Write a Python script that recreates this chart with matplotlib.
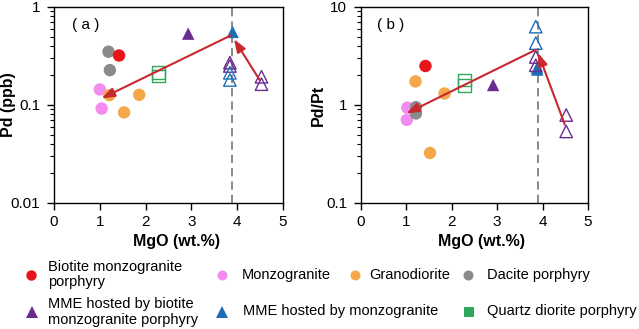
import matplotlib
matplotlib.use("Agg")
import matplotlib.pyplot as plt
from matplotlib.lines import Line2D
from matplotlib.ticker import LogLocator, NullFormatter, FixedLocator, FixedFormatter

plt.rcParams['font.family'] = ['Liberation Sans', 'DejaVu Sans']

# ---- data (panel a: Pd ppb, panel b: Pd/Pt) ----
red_x = [1.42]; red_a = [0.32]; red_bx = [1.42]; red_b = [2.5]
gray_x = [1.19, 1.22]; gray_a = [0.35, 0.227]
gray_bx = [1.21, 1.21]; gray_b = [0.95, 0.82]
pink_x = [1.0, 1.04]; pink_a = [0.144, 0.092]
pink_bx = [1.02, 1.01]; pink_b = [0.94, 0.705]
orange_x = [1.21, 1.86, 1.53]; orange_a = [0.126, 0.127, 0.084]
orange_bx = [1.2, 1.84, 1.52]; orange_b = [1.74, 1.31, 0.324]
green_x = [2.28, 2.28]; green_a = [0.215, 0.198]
green_bx = [2.28, 2.28]; green_b = [1.79, 1.58]
purple_fx = [2.93]; purple_fa = [0.535]
purple_fbx = [2.91]; purple_fb = [1.6]
blue_fx = [3.9]; blue_fa = [0.557]
blue_fbx = [3.88, 3.88]; blue_fb = [2.4, 2.3]
purple_ox = [3.84, 3.84, 4.53, 4.53]; purple_oa = [0.27, 0.25, 0.194, 0.163]
purple_obx = [3.85, 3.85, 4.52, 4.52]; purple_ob = [3.09, 2.54, 0.79, 0.537]
blue_ox = [3.84, 3.84]; blue_oa = [0.213, 0.18]
blue_obx = [3.85, 3.85]; blue_ob = [6.3, 4.28]
dash_x = 3.89
arrows_a = [((3.87, 0.515), (1.04, 0.117)), ((4.49, 0.18), (3.93, 0.47))]
arrows_b = [((3.85, 3.66), (1.0, 0.82)), ((4.49, 0.63), (3.9, 3.4))]

C_RED = '#e8161b'; C_PINK = '#f38cf0'; C_OR = '#f4a84a'; C_GRAY = '#8a8a8a'
C_PUR = '#6a2c91'; C_BLUE = '#1c6fb6'; C_GREEN = '#2ea85a'; C_ARR = '#c8282e'

fig = plt.figure(figsize=(6.39, 3.29), dpi=100)
axa = fig.add_axes([54/639, 1-203/329, 229/639, 196/329])
axb = fig.add_axes([361/639, 1-203/329, 227/639, 196/329])

S = 80
def draw(ax, d, arrows, ylim, ylabel, plabel, ylab_x, plab_x):
    (rx, ry), (gx, gy), (px, py), (ox, oy), (qx, qy), (pfx, pfy), (bfx, bfy), (pox, poy), (box, boy) = d
    ax.axvline(dash_x, color='#777777', ls=(0, (5, 3)), lw=1.2, zorder=1)
    ax.scatter(px, py, s=S, c=C_PINK, edgecolors='none', zorder=3)
    ax.scatter(ox, oy, s=S, c=C_OR, edgecolors='none', zorder=3)
    ax.scatter(gx, gy, s=S, c=C_GRAY, edgecolors='none', zorder=3)
    ax.scatter(rx, ry, s=S, c=C_RED, edgecolors='none', zorder=3)
    ax.scatter(qx, qy, s=S, marker='s', facecolors='none', edgecolors=C_GREEN, linewidths=1.0, zorder=3)
    ax.scatter(pfx, pfy, s=S, marker='^', c=C_PUR, edgecolors='none', zorder=3)
    ax.scatter(bfx, bfy, s=S, marker='^', c=C_BLUE, edgecolors='none', zorder=3)
    ax.scatter(pox, poy, s=S, marker='^', facecolors='none', edgecolors=C_PUR, linewidths=1.0, zorder=3)
    ax.scatter(box, boy, s=S, marker='^', facecolors='none', edgecolors=C_BLUE, linewidths=1.0, zorder=3)
    for (x0, y0), (x1, y1) in arrows:
        ax.annotate('', xy=(x1, y1), xytext=(x0, y0),
                    arrowprops=dict(arrowstyle='-|>,head_length=0.55,head_width=0.2', color=C_ARR, lw=1.5,
                                    mutation_scale=14, shrinkA=0, shrinkB=0), zorder=4)
    ax.set_yscale('log')
    ax.set_ylim(*ylim)
    ax.set_xlim(0, 5)
    ax.set_xticks([0, 1, 2, 3, 4, 5])
    ax.yaxis.set_minor_locator(LogLocator(base=10, subs=range(2, 10)))
    ax.yaxis.set_minor_formatter(NullFormatter())
    ax.tick_params(axis='both', which='major', direction='out', length=5, width=1, labelsize=11)
    ax.tick_params(axis='y', which='major', pad=5)
    ax.tick_params(axis='x', which='major', pad=4)
    ax.tick_params(axis='y', which='minor', direction='out', length=3, width=0.8)
    for sp in ax.spines.values():
        sp.set_linewidth(1.0)
    ax.set_xlabel('MgO (wt.%)', fontsize=11.5, fontweight='bold', va='center')
    ax.xaxis.set_label_coords(0.533, -0.197)
    ax.set_ylabel(ylabel, fontsize=11.5, fontweight='bold', va='center')
    ax.yaxis.set_label_coords(ylab_x, 0.5)
    ax.text(plab_x, 0.908, plabel, transform=ax.transAxes, fontsize=11, va='center', ha='left')

da = [(red_x, red_a), (gray_x, gray_a), (pink_x, pink_a), (orange_x, orange_a), (green_x, green_a),
      (purple_fx, purple_fa), (blue_fx, blue_fa), (purple_ox, purple_oa), (blue_ox, blue_oa)]
db = [(red_bx, red_b), (gray_bx, gray_b), (pink_bx, pink_b), (orange_bx, orange_b), (green_bx, green_b),
      (purple_fbx, purple_fb), (blue_fbx, blue_fb), (purple_obx, purple_ob), (blue_obx, blue_ob)]
draw(axa, da, arrows_a, (0.01, 1), 'Pd (ppb)', '( a )', -0.198, 0.077)
draw(axb, db, arrows_b, (0.1, 10), 'Pd/Pt', '( b )', -0.188, 0.072)
axa.yaxis.set_major_locator(FixedLocator([0.01, 0.1, 1]))
axa.yaxis.set_major_formatter(FixedFormatter(['0.01', '0.1', '1']))
axb.yaxis.set_major_locator(FixedLocator([0.1, 1, 10]))
axb.yaxis.set_major_formatter(FixedFormatter(['0.1', '1', '10']))

# ---- legend ----
leg_labels = ['Biotite monzogranite\nporphyry', 'Monzogranite', 'Granodiorite', 'Dacite porphyry',
              'MME hosted by biotite\nmonzogranite porphyry', 'MME hosted by monzogranite', 'Quartz diorite porphyry']
leg_colors = [C_RED, C_PINK, C_OR, C_GRAY, C_PUR, C_BLUE, C_GREEN]
leg_markers = ['o', 'o', 'o', 'o', '^', '^', 's']
leg_mx = [30.7, 221.7, 355, 468.3, 31.7, 221.7, 469]
leg_tx = [48.3, 241.7, 369, 487.3, 48.3, 242.7, 487.3]
leg_y = [274.5, 275, 275, 275, 312, 311.5, 311.5]
leg_ms = [7.5, 7.2, 7.2, 7.2, 8, 8, 6.8]
for lab, c, m, mx, tx, y, ms in zip(leg_labels, leg_colors, leg_markers, leg_mx, leg_tx, leg_y, leg_ms):
    fig.add_artist(Line2D([mx/639], [1-y/329], transform=fig.transFigure, marker=m, color=c,
                          markersize=ms, markeredgewidth=0, linestyle='none'))
    fig.text(tx/639, 1-y/329, lab, fontsize=10.5, va='center', ha='left', linespacing=1.1)

fig.savefig('out.png', dpi=100)
